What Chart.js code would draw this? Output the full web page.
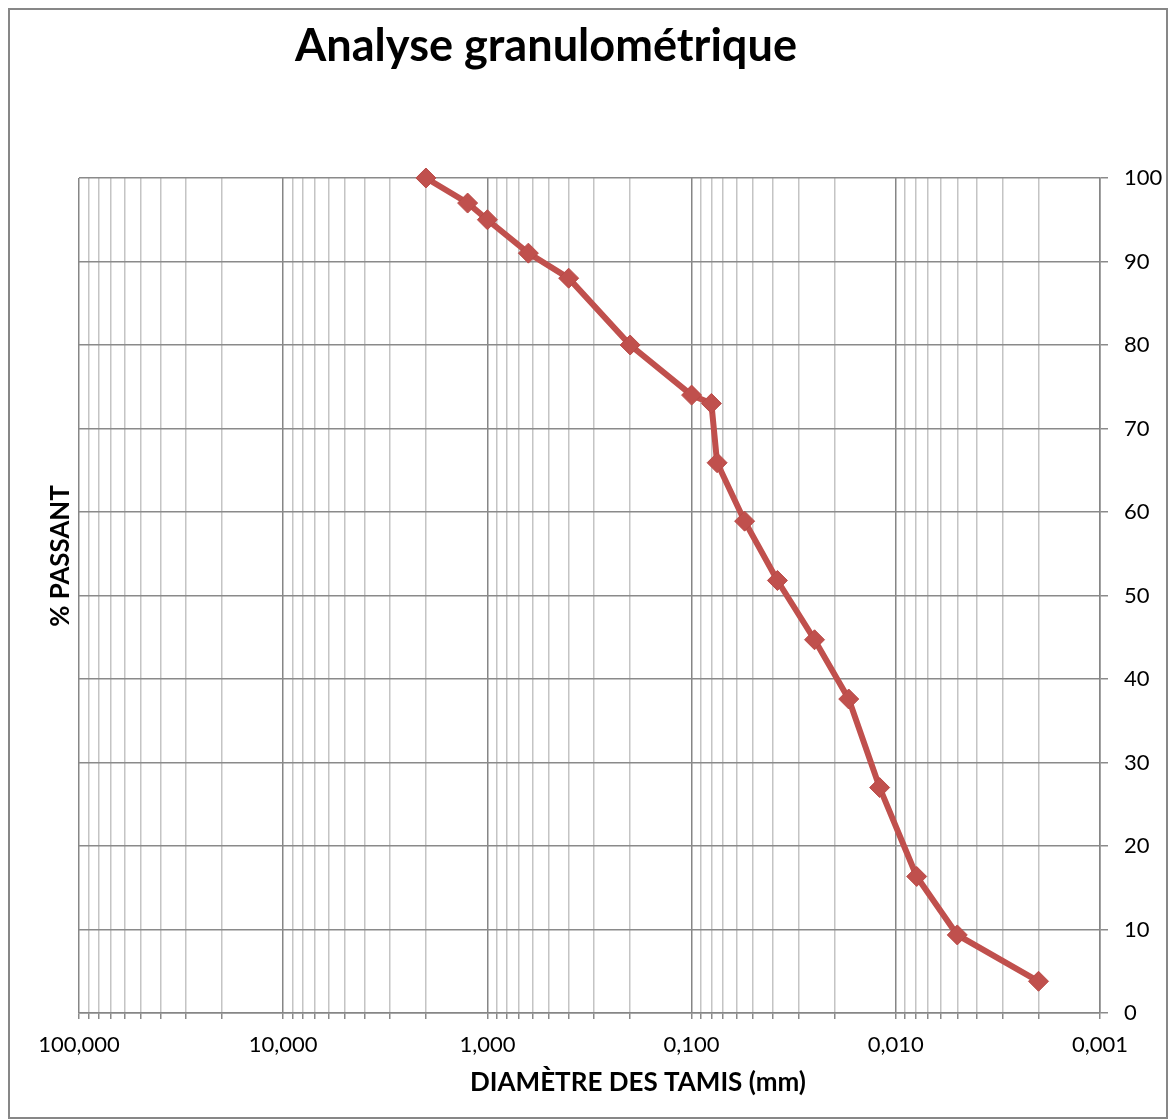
<!DOCTYPE html>
<html><head><meta charset="utf-8">
<script src="https://cdn.jsdelivr.net/npm/chart.js@4/dist/chart.umd.min.js"></script>
<style>html,body{margin:0;padding:0;background:#fff;}#wrap{width:1169px;height:1119px;position:relative;}</style>
</head><body><div id="wrap"><canvas id="c" width="1169" height="1119"></canvas></div>
<script>
// ---- Data ----
const diametres = [2, 1.25, 1, 0.63, 0.4, 0.2, 0.1, 0.08, 0.075, 0.055, 0.038, 0.025, 0.017, 0.012, 0.0079, 0.005, 0.002];
const passants  = [100, 97, 95, 91, 88, 80, 74, 73, 65.9, 58.9, 51.8, 44.7, 37.6, 27.0, 16.35, 9.35, 3.8];
const xTickValues = [100, 10, 1, 0.1, 0.01, 0.001];
const xTickLabels = ["100,000", "10,000", "1,000", "0,100", "0,010", "0,001"];
const yTickValues = [0, 10, 20, 30, 40, 50, 60, 70, 80, 90, 100];
const chartTitle = "Analyse granulométrique";
const xTitle = "DIAMÈTRE DES TAMIS (mm)";
const yTitle = "% PASSANT";

const FONT = "Lato, 'Open Sans', sans-serif";
const isDecade = v => xTickValues.some(d => Math.abs(d - v) / d < 1e-6);

function fitSize(ctx, text, weight, target) {
  ctx.font = weight + " 100px " + FONT;
  return 100 * target / ctx.measureText(text).width;
}

const decor = {
  id: 'decor',
  afterDraw(chart) {
    const ctx = chart.ctx;
    ctx.save();
    ctx.strokeStyle = '#878787';
    ctx.lineWidth = 2;
    ctx.strokeRect(9, 9, 1158, 1109);
    ctx.fillStyle = '#000';
    // title
    let s = fitSize(ctx, chartTitle, 'bold', 502);
    ctx.font = 'bold ' + s.toFixed(1) + 'px ' + FONT;
    ctx.textAlign = 'center';
    ctx.textBaseline = 'alphabetic';
    ctx.fillText(chartTitle, 546, 61);
    // x title
    s = fitSize(ctx, xTitle, 'bold', 336);
    ctx.font = 'bold ' + s.toFixed(1) + 'px ' + FONT;
    ctx.textBaseline = 'middle';
    ctx.fillText(xTitle, 638, 1083);
    // y title
    s = fitSize(ctx, yTitle, 'bold', 142);
    ctx.font = 'bold ' + s.toFixed(1) + 'px ' + FONT;
    ctx.translate(61, 556);
    ctx.rotate(-Math.PI / 2);
    ctx.fillText(yTitle, 0, 0);
    ctx.restore();
  }
};

new Chart(document.getElementById('c'), {
  type: 'scatter',
  data: {
    datasets: [{
      data: diametres.map((d, i) => ({ x: d, y: passants[i] })),
      showLine: true,
      borderColor: '#c0504d',
      borderWidth: 6,
      backgroundColor: '#c0504d',
      pointStyle: 'rectRot',
      pointRadius: 10,
      pointBackgroundColor: '#c0504d',
      pointBorderColor: '#b94a47',
      pointBorderWidth: 1,
      tension: 0,
      clip: false
    }]
  },
  options: {
    responsive: false,
    animation: false,
    devicePixelRatio: 1,
    layout: { padding: { left: 79, top: 178, right: 0, bottom: 0 } },
    plugins: { legend: { display: false }, title: { display: false }, tooltip: { enabled: false } },
    scales: {
      x: {
        type: 'logarithmic',
        position: 'bottom',
        reverse: true,
        min: 0.001,
        max: 100,
        afterBuildTicks(scale) {
          const t = [];
          for (let e = -3; e <= 1; e++) for (let k = 1; k <= 9; k++) t.push({ value: +(k * Math.pow(10, e)).toPrecision(3) });
          t.push({ value: 100 });
          scale.ticks = t;
        },
        afterFit(scale) { scale.height = 106; },
        ticks: {
          autoSkip: false, maxRotation: 0, minRotation: 0,
          color: '#000', padding: 13,
          font: { family: FONT, size: 22 },
          callback(v) {
            const i = xTickValues.findIndex(d => Math.abs(d - v) / d < 1e-6);
            return i >= 0 ? xTickLabels[i] : '';
          }
        },
        grid: {
          color: ctx => (ctx.tick && isDecade(ctx.tick.value)) ? '#868686' : '#c4c4c4',
          lineWidth: 1.5,
          tickLength: 6,
          tickColor: '#8a8a8a'
        },
        border: { color: '#868686', width: 1.5 }
      },
      y: {
        position: 'right',
        min: 0,
        max: 100,
        afterBuildTicks(scale) { scale.ticks = yTickValues.map(v => ({ value: v })); },
        afterFit(scale) { scale.width = 69; },
        ticks: { color: '#000', padding: 16, font: { family: FONT, size: 22 } },
        grid: { color: '#8a8a8a', lineWidth: 1.5, tickLength: 8 },
        border: { color: '#868686', width: 1.5 }
      }
    }
  },
  plugins: [decor]
});
</script></body></html>
